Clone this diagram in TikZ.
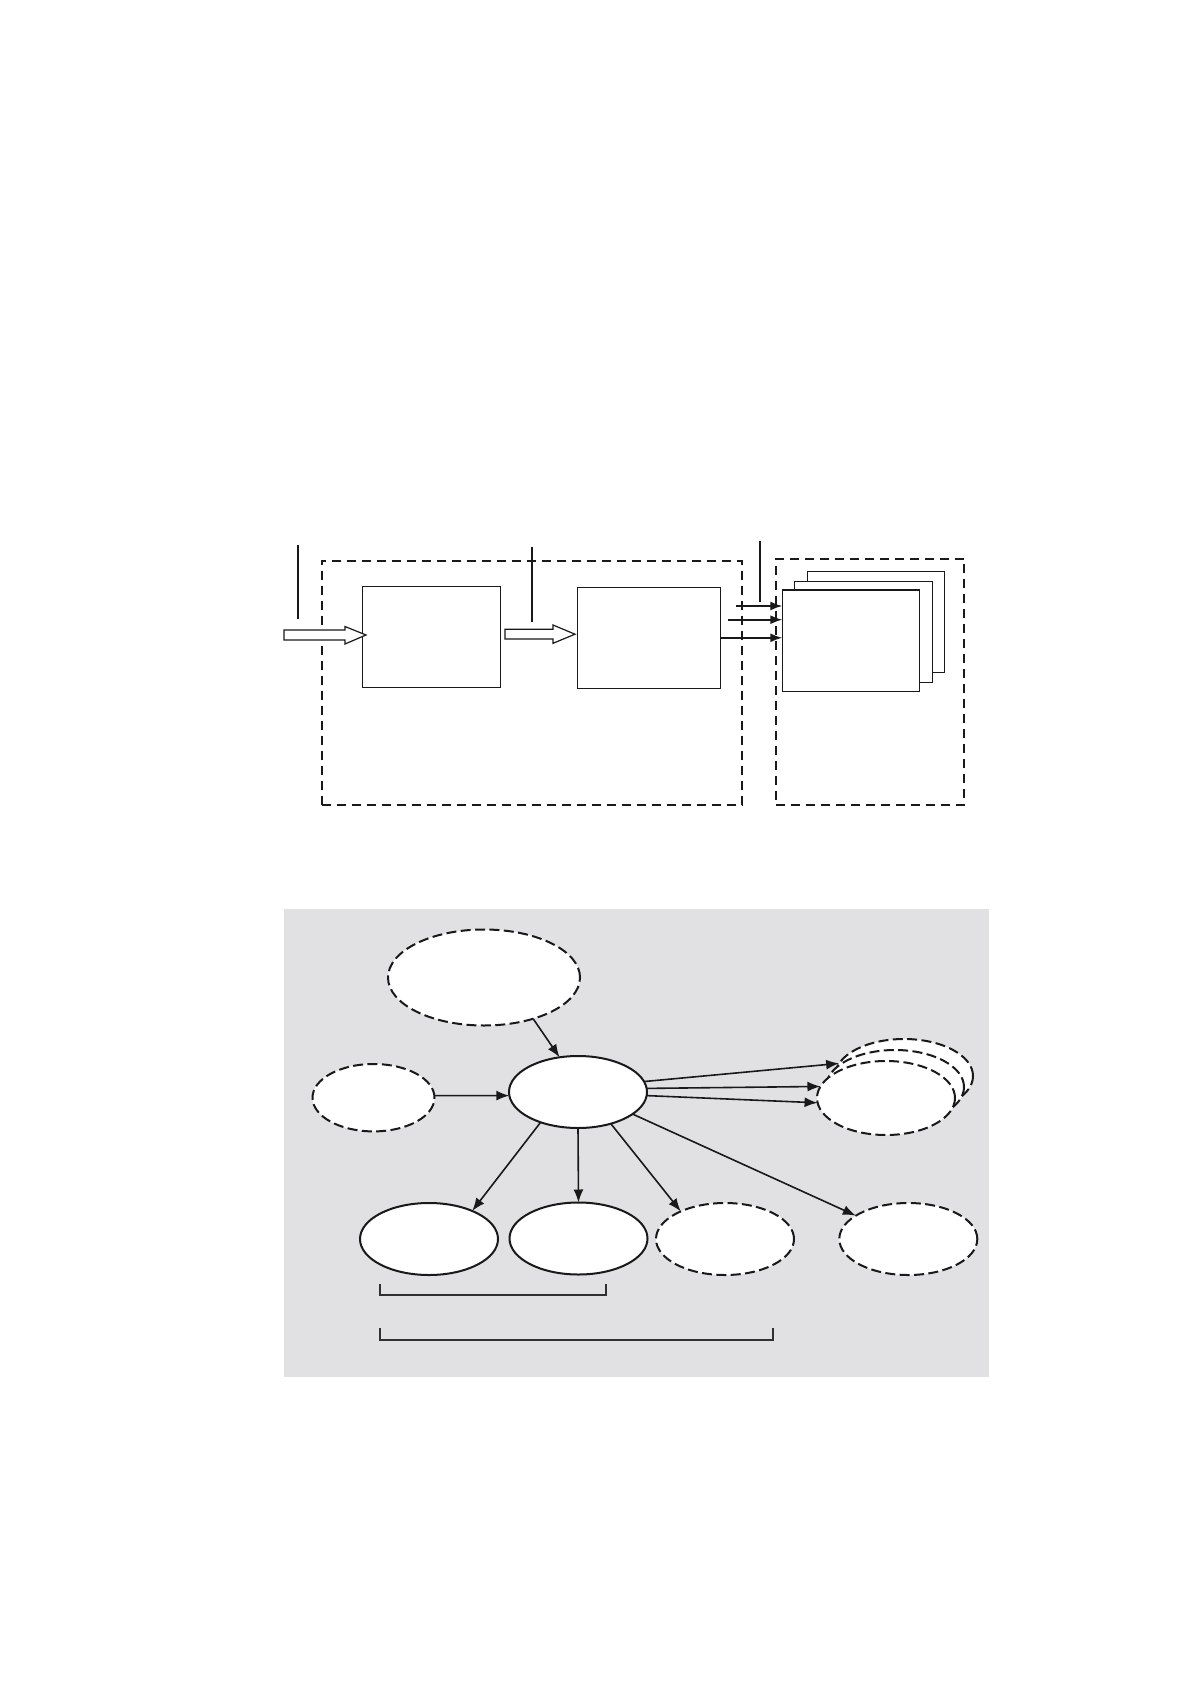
\documentclass[tikz,border=0pt]{standalone}
\usetikzlibrary{shapes.geometric,arrows.meta}
\definecolor{panelgray}{RGB}{225,225,227}
\definecolor{ink}{RGB}{25,25,25}
\begin{document}
\begin{tikzpicture}[x=0.5pt,y=-0.5pt,
  box/.style={draw=ink,rectangle,fill=white,line width=0.6pt,inner sep=0pt,outer sep=0pt},
  region/.style={draw=ink,rectangle,line width=1pt,dash pattern=on 4.5pt off 3pt,inner sep=0pt,outer sep=0pt},
  ell/.style={draw=ink,ellipse,fill=white,line width=1pt,inner sep=0pt,outer sep=0pt,minimum width=69pt,minimum height=36pt},
  dell/.style={ell,dash pattern=on 5pt off 2.2pt},
  conn/.style={draw=ink,line width=0.8pt,-{Latex[length=6.5pt,width=5pt]}},
  sconn/.style={draw=ink,line width=0.8pt,-{Latex[length=6pt,width=4.5pt]}},
  lead/.style={draw=ink,line width=1pt},
  hollow/.style={draw=ink,fill=white,line width=0.6pt,line join=miter},
  brace/.style={draw=ink!90,line width=1pt}
]
\useasboundingbox (0,0) rectangle (1190,1684);

% ---------- top diagram ----------
\node[region,minimum width=210.15pt,minimum height=122pt] (reg1) at (531.85,683) {};
\node[region,minimum width=94.15pt,minimum height=123pt] (reg2) at (870.15,682) {};

\node[box,minimum width=68.9pt,minimum height=50.2pt] (A) at (431.2,636.9) {};
\node[box,minimum width=71.7pt,minimum height=50.5pt] (B) at (649,637.8) {};

\node[box,minimum width=68.3pt,minimum height=50.5pt] (K3) at (876,621.8) {};
\node[box,minimum width=69pt,minimum height=50.3pt] (K2) at (863.3,632) {};
\node[box,minimum width=68.5pt,minimum height=50.65pt] (F) at (850.8,640.7) {};

% leader lines
\coordinate (l1t) at (297.7,545); \coordinate (l1b) at (297.7,619);
\coordinate (l2t) at (532,547);   \coordinate (l2b) at (532,622);
\coordinate (l3t) at (760,541);   \coordinate (l3b) at (760,602);
\draw[lead] (l1t) -- (l1b);
\draw[lead] (l2t) -- (l2b);
\draw[lead] (l3t) -- (l3b);

% hollow block arrows
\draw[hollow] (284,630) -- (345,630) -- (345,626.5) -- (366,635) -- (345,644) -- (345,640) -- (284,640) -- cycle;
\draw[hollow] (505,629.3) -- (553,629.3) -- (553,625) -- (575,634.2) -- (553,643.3) -- (553,639) -- (505,639) -- cycle;

% arrows into the stack
\coordinate (a1s) at (736,606);
\coordinate (a2s) at (728,619.7);
\draw[sconn] (a1s) -- (a1s -| F.west);
\draw[sconn] (a2s) -- (a2s -| F.west);
\draw[sconn] (B.east) -- (B.east -| F.west);

% ---------- bottom diagram ----------
\fill[panelgray] (284,909) rectangle (989,1377);

\node[dell,minimum width=96pt,minimum height=48pt] (T) at (484,977.5) {};
\node[dell,minimum width=61pt,minimum height=33.7pt] (L) at (373.5,1097.7) {};
\node[ell] (C) at (578,1092) {};

\node[dell,minimum height=37pt] (R3) at (904,1076) {};
\node[dell,minimum height=37pt] (R2) at (895,1087) {};
\node[dell,minimum height=37pt] (R1) at (886,1098) {};

\node[ell] (E1) at (429,1239) {};
\node[ell] (E2) at (578.5,1238.5) {};
\node[dell] (E3) at (725,1239) {};
\node[dell] (E4) at (908.3,1239) {};

\draw[conn] (T.-40) -- (C.118);
\draw[conn] (L.2) -- (C.183);
\draw[conn] (C.9) -- (R3.169);
\draw[conn] (C.3) -- (R1.170);
\draw[conn] (C.-3) -- (R1.-176);
\draw[conn] (C.-22) -- (E4.156);
\draw[conn] (C.-44) -- (E3.148);
\draw[conn] (C.-141.5) -- (E1.33);
\draw[conn] (C.south) -- (E2.north);

% brackets
\draw[brace] (380,1284) -- (380,1294.7) -- (606,1294.7) -- (606,1284);
\draw[brace] (380,1328.3) -- (380,1340) -- (773.3,1340) -- (773.3,1328.3);
\end{tikzpicture}
\end{document}
